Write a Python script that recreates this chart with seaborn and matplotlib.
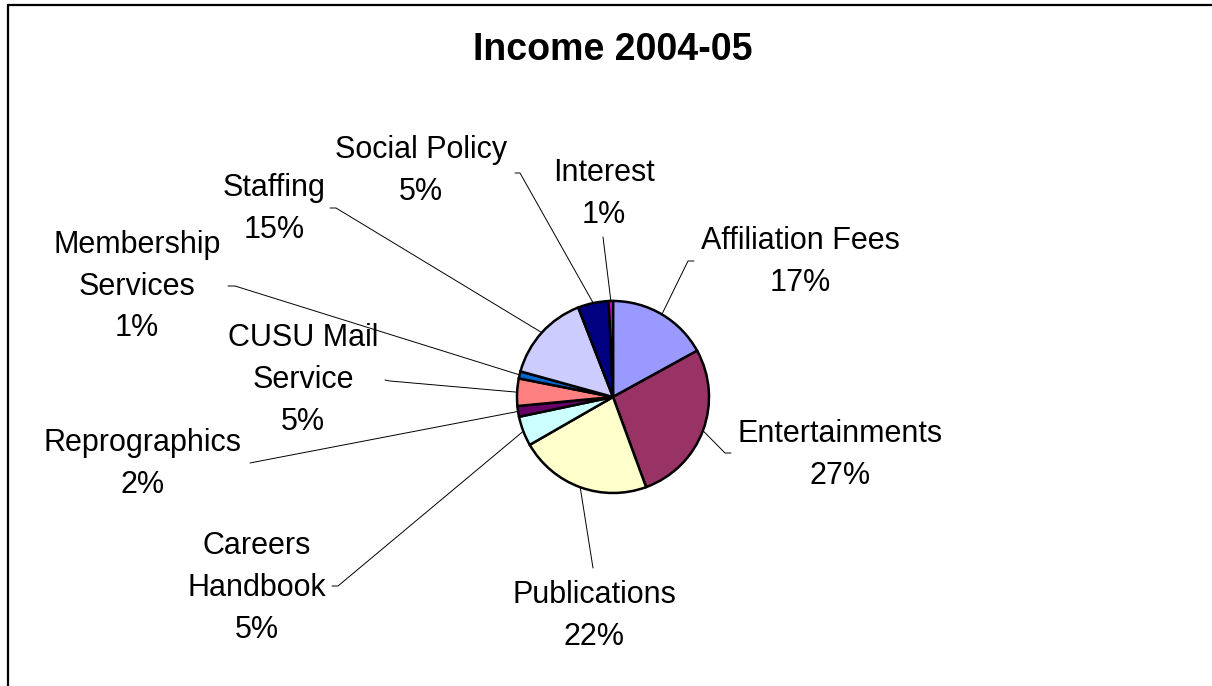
import numpy as np
import seaborn as sns
import matplotlib.pyplot as plt

# Income 2004-05 breakdown (percent of total)
categories = ['Affiliation Fees', 'Entertainments', 'Publications', 'Careers\nHandbook',
              'Reprographics', 'CUSU Mail\nService', 'Membership\nServices', 'Staffing',
              'Social Policy', 'Interest']
values = [17.0, 27.4, 22.3, 5.0, 1.8, 4.6, 1.2, 14.8, 5.2, 0.7]
colors = ['#9999FF', '#993366', '#FFFFCC', '#CCFFFF', '#660066',
          '#FF8080', '#0066CC', '#CCCCFF', '#000080', '#FF00FF']

W, H = 1212, 686
# label layout in pixel coords (x, y from top): text centre, leader elbow, leader end
label_pos = [(800, 262), (840, 455), (594, 616), (257, 588), (143, 464),
             (303, 380), (137, 287), (274, 209), (421, 171), (604, 194)]
elbows = [(688, 261), (725, 453), (593, 568), (338, 586), (255, 462),
          (390, 381), (235, 286), (336, 208), (520, 173), (603, 237)]
ends = [(694, 261), (731, 453), (593, 568), (332, 586), (250, 463),
        (385, 380), (228, 286), (330, 208), (515, 173), (603, 237)]

sns.set_theme(style="white")
plt.rcParams['font.family'] = ['Liberation Sans', 'DejaVu Sans']

fig = plt.figure(figsize=(W / 100, H / 100), dpi=100)
ax = fig.add_axes([0, 0, 1, 1])

cx, cy, r = 613, H - 397, 96
wedges, _ = ax.pie(values, colors=colors, startangle=90, counterclock=False,
                   center=(cx, cy), radius=r,
                   wedgeprops=dict(edgecolor='black', linewidth=1.8))
ax.set_xlim(0, W)
ax.set_ylim(0, H)
ax.set_aspect('equal')
ax.axis('off')

total = sum(values)
for w, name, v, (tx, ty), (ex, ey), (fx, fy) in zip(wedges, categories, values,
                                                      label_pos, elbows, ends):
    mid = np.deg2rad((w.theta1 + w.theta2) / 2)
    sx, sy = cx + r * np.cos(mid), cy + r * np.sin(mid)
    ax.plot([sx, ex, fx], [sy, H - ey, H - fy], color='black', lw=0.7)
    ax.text(tx, H - ty, f"{name}\n{round(v / total * 100):.0f}%", ha='center',
            va='center', fontsize=22, linespacing=1.5, color='black')

ax.text(613, H - 50, 'Income 2004-05', ha='center', va='center',
        fontsize=27, fontweight='bold', color='black')

# chart frame (top and left edges visible)
ax.plot([8, W], [H - 4.5, H - 4.5], color='black', lw=1.6, clip_on=False)
ax.plot([8, 8], [H - 4.5, 0], color='black', lw=1.6, clip_on=False)

plt.savefig('out.png', dpi=100)
